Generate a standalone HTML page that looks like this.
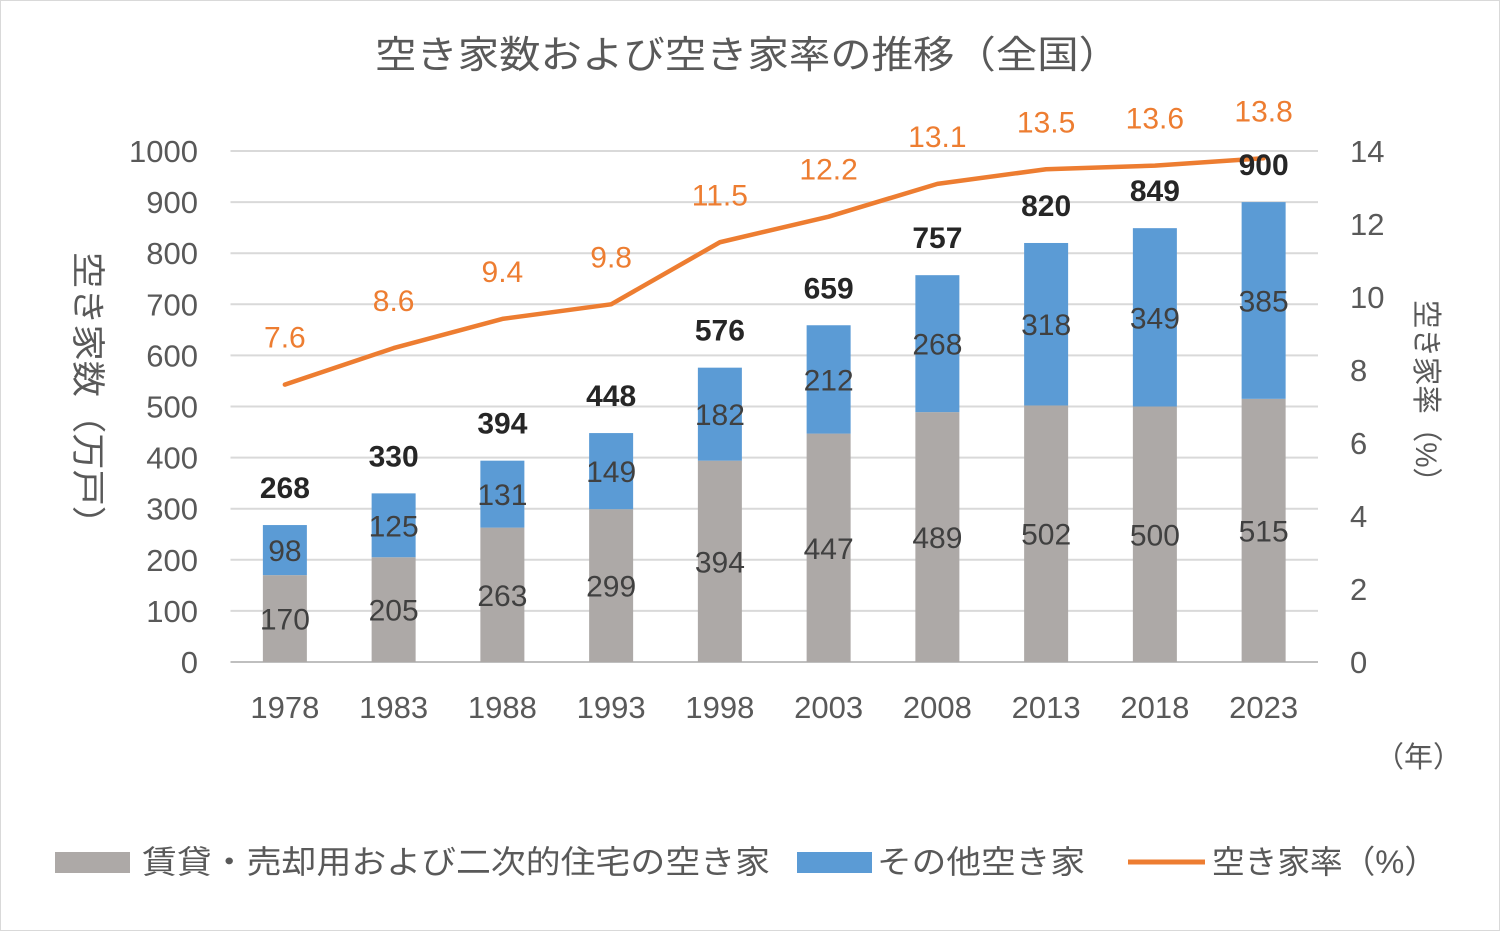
<!DOCTYPE html>
<html><head><meta charset="utf-8"><style>
html,body{margin:0;padding:0;background:#fff;}
svg{display:block;font-family:"Liberation Sans","Noto Sans CJK JP",sans-serif;}
</style></head><body>
<svg id="chart" width="1500" height="931" viewBox="0 0 1500 931" xmlns="http://www.w3.org/2000/svg">
<rect x="0.5" y="0.5" width="1499" height="930" fill="#fff" stroke="#d9d9d9"/>
<text x="375" y="68" font-size="38" fill="#595959" textLength="745" lengthAdjust="spacingAndGlyphs">空き家数および空き家率の推移（全国）</text>
<g id="grid"></g><g id="bars"></g><g id="line"></g><g id="labels"></g>
<text transform="translate(76,252) rotate(90)" font-size="34" fill="#595959" textLength="290" lengthAdjust="spacingAndGlyphs">空き家数（万戸）</text>
<text transform="translate(1416,300) rotate(90)" font-size="30" fill="#595959" textLength="196" lengthAdjust="spacingAndGlyphs">空き家率（%）</text>
<text x="1375" y="767" font-size="29" fill="#595959">（年）</text>
<g>
<rect x="55" y="852" width="75" height="21" fill="#ADA9A7"/>
<text x="142" y="873" font-size="32" fill="#595959" textLength="628" lengthAdjust="spacingAndGlyphs">賃貸・売却用および二次的住宅の空き家</text>
<rect x="797" y="852" width="75" height="21" fill="#5B9BD5"/>
<text x="877" y="873" font-size="32" fill="#595959" textLength="208" lengthAdjust="spacingAndGlyphs">その他空き家</text>
<line x1="1128" y1="862" x2="1205" y2="862" stroke="#ED7D31" stroke-width="5"/>
<text x="1212" y="873" font-size="32" fill="#595959" textLength="225" lengthAdjust="spacingAndGlyphs">空き家率（%）</text>
</g>
</svg>
<script>
const years = ["1978","1983","1988","1993","1998","2003","2008","2013","2018","2023"];
const rentalVacant = [170,205,263,299,394,447,489,502,500,515];
const otherVacant = [98,125,131,149,182,212,268,318,349,385];
const totals = [268,330,394,448,576,659,757,820,849,900];
const rates = [7.6,8.6,9.4,9.8,11.5,12.2,13.1,13.5,13.6,13.8];
const leftTicks = [0,100,200,300,400,500,600,700,800,900,1000];
const rightTicks = [0,2,4,6,8,10,12,14];

const NS="http://www.w3.org/2000/svg";
const x0=230.5, x1=1318, y0=662, yTop=151;
const bw=(x1-x0)/years.length;
const yL=v=>y0-(v/1000)*(y0-yTop);
const yR=v=>y0-(v/14)*(y0-yTop);
const xc=i=>x0+bw*(i+0.5);
function mk(tag,attrs,parent,txt){const e=document.createElementNS(NS,tag);for(const k in attrs)e.setAttribute(k,attrs[k]);if(txt!==undefined)e.textContent=txt;document.getElementById(parent).appendChild(e);return e;}

leftTicks.forEach(t=>{
  const g=mk('line',{x1:x0,x2:x1,y1:yL(t),y2:yL(t),stroke:t===0?'#bfbfbf':'#d9d9d9','stroke-width':2},'grid');
  
  
  const l=mk('text',{x:198,y:yL(t)+11,'text-anchor':'end','font-size':31,fill:'#595959'},'grid',String(t));
  
  
});
rightTicks.forEach(t=>{
  const l=mk('text',{x:1350,y:yR(t)+11,'font-size':31,fill:'#595959'},'grid',String(t));
  
  
});
const w=44;
years.forEach((yr,i)=>{
  const cx=xc(i);
  const a=rentalVacant[i], b=otherVacant[i];
  const r1=mk('rect',{x:cx-w/2,y:yL(a),width:w,height:y0-yL(a),fill:'#ADA9A7'},'bars');
  
  
  const r2=mk('rect',{x:cx-w/2,y:yL(a+b),width:w,height:yL(a)-yL(a+b),fill:'#5B9BD5'},'bars');
  
  
  const t1=mk('text',{x:cx,y:yL(a/2)+11,'text-anchor':'middle','font-size':30,fill:'#404040'},'labels',String(a));
  
  
  const t2=mk('text',{x:cx,y:yL(a+b/2)+11,'text-anchor':'middle','font-size':30,fill:'#404040'},'labels',String(b));
  
  
  const t3=mk('text',{x:cx,y:yL(totals[i])-27,'text-anchor':'middle','font-size':30,'font-weight':'bold',fill:'#262626'},'labels',String(totals[i]));
  
  
  const t4=mk('text',{x:cx,y:yR(rates[i])-37,'text-anchor':'middle','font-size':30,fill:'#ED7D31'},'labels',rates[i].toFixed(1));
  
  
  const t5=mk('text',{x:cx,y:718,'text-anchor':'middle','font-size':31,fill:'#595959'},'labels',yr);
  
  
});
const pts=rates.map((r,i)=>xc(i)+','+yR(r)).join(' ');
const pl=mk('polyline',{points:pts,fill:'none',stroke:'#ED7D31','stroke-width':4.5,'stroke-linejoin':'round','stroke-linecap':'round'},'line');


</script>
</body></html>
